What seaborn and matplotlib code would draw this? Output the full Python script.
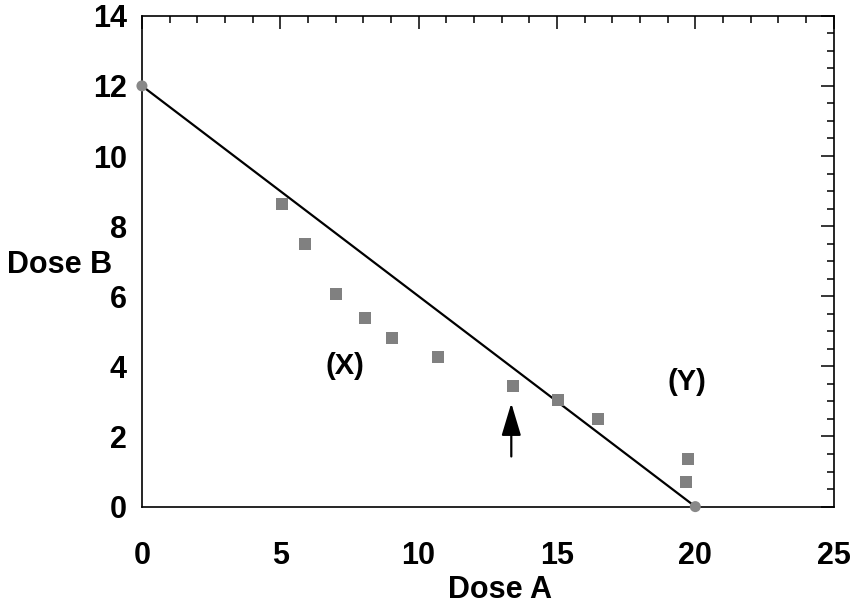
import matplotlib
matplotlib.use("Agg")
import matplotlib.pyplot as plt
import seaborn as sns
import pandas as pd
from matplotlib.ticker import MultipleLocator

# Data
dose_a = [5.05, 5.9, 7.0, 8.05, 9.05, 10.7, 13.4, 15.05, 16.5, 19.75, 19.65]
dose_b = [8.62, 7.49, 6.06, 5.37, 4.80, 4.26, 3.44, 3.04, 2.49, 1.36, 0.70]
line_a = [0, 20]
line_b = [12, 0]
label_x = "Dose A"
label_y = "Dose B"
annotations = ["(X)", "(Y)"]
annot_pos = [(7.35, 4.0), (19.7, 3.55)]
arrow_x = 13.35
arrow_from = 1.43
arrow_to = 2.95

sns.set_theme(style="white")
plt.rcParams['font.family'] = ['Liberation Sans', 'DejaVu Sans']
plt.rcParams['font.weight'] = 'bold'
plt.rcParams['text.color'] = 'black'
plt.rcParams['axes.labelcolor'] = 'black'
plt.rcParams['xtick.color'] = 'black'
plt.rcParams['ytick.color'] = 'black'

fig = plt.figure(figsize=(8.55, 6.06), dpi=100)
ax = fig.add_axes([0.166, 0.164, 0.809, 0.81])

pts = pd.DataFrame({"a": dose_a, "b": dose_b})
ln = pd.DataFrame({"a": line_a, "b": line_b})

sns.lineplot(data=ln, x="a", y="b", ax=ax, color="black", linewidth=1.6, zorder=2)
sns.scatterplot(data=pts, x="a", y="b", ax=ax, marker="s", s=74, color="#808080",
                edgecolor="none", linewidth=0, zorder=3)
sns.scatterplot(data=ln, x="a", y="b", ax=ax, marker="o", s=63, color="#888888",
                edgecolor="none", linewidth=0, zorder=4, clip_on=False)

ax.set_xlim(0, 25)
ax.set_ylim(0, 14)
ax.xaxis.set_major_locator(MultipleLocator(5))
ax.xaxis.set_minor_locator(MultipleLocator(1))
ax.yaxis.set_major_locator(MultipleLocator(2))
ax.yaxis.set_minor_locator(MultipleLocator(0.5))

ax.tick_params(which="both", direction="in", top=True, right=True, color="black", width=1.1)
ax.tick_params(which="major", length=9.5)
ax.tick_params(which="minor", length=5)
ax.tick_params(axis="x", which="major", labelsize=22, labelcolor="black", pad=25)
ax.tick_params(axis="y", which="major", labelsize=22, labelcolor="black", pad=11)
for lab in ax.get_xticklabels() + ax.get_yticklabels():
    lab.set_fontweight("bold")

for s in ax.spines.values():
    s.set_color("black")
    s.set_linewidth(1.2)

ax.set_xlabel(label_x, fontsize=22, fontweight="bold", va="center", color="black")
ax.set_ylabel(label_y, fontsize=22, fontweight="bold", rotation=0, ha="center", va="center",
              color="black")
ax.xaxis.set_label_coords(0.517, -0.17)
ax.yaxis.set_label_coords(-0.1185, 0.492)

for txt, (x, y) in zip(annotations, annot_pos):
    ax.text(x, y, txt, fontsize=21, fontweight="bold", ha="center", va="center", color="black")

ax.annotate("", xy=(arrow_x, arrow_to), xytext=(arrow_x, arrow_from),
            arrowprops=dict(arrowstyle="-|>,head_length=1.0,head_width=0.3",
                            mutation_scale=20, lw=1.6, color="black",
                            shrinkA=0, shrinkB=0))

fig.savefig("out.png", dpi=100)
